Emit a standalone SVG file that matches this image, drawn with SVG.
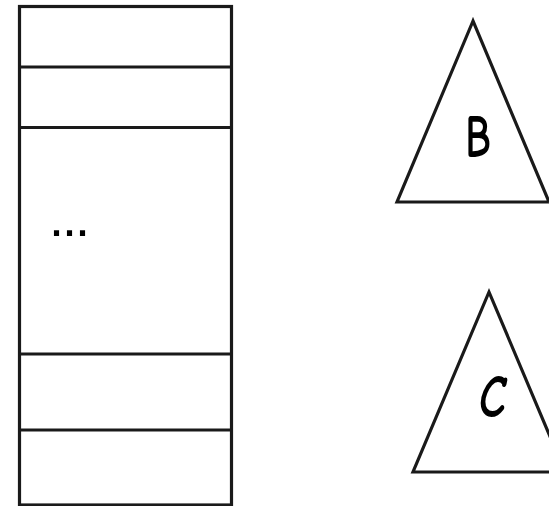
<svg xmlns="http://www.w3.org/2000/svg" width="549" height="506" viewBox="0 0 549 506">
<style>
.s{fill:none;stroke:#1a1a1a;stroke-width:3.2}
.t{fill:#000;font-family:"Comic Sans MS","Comic Neue","DejaVu Sans",sans-serif;font-weight:bold}
</style>
<rect width="549" height="506" fill="#fff"/>
<g id="stack">
<rect class="s" x="19.5" y="6.5" width="212" height="498.5"/>
<line class="s" x1="19.5" y1="67" x2="231.5" y2="67"/>
<line class="s" x1="19.5" y1="127.5" x2="231.5" y2="127.5"/>
<line class="s" x1="19.5" y1="354" x2="231.5" y2="354"/>
<line class="s" x1="19.5" y1="430" x2="231.5" y2="430"/>
<text x="49" y="236" style="fill:#000;font-family:'Liberation Sans',sans-serif;font-size:54px;letter-spacing:-2px">...</text>
</g>
<g id="B">
<polygon class="s" points="473,21 397,202 549,202"/>
<text class="t" x="478" y="157" text-anchor="middle" font-size="60" transform="translate(478 0) scale(0.7 1) translate(-478 0)">B</text>
</g>
<g id="C">
<polygon class="s" points="489,292 413,472 565,472"/>
<text class="t" x="492" y="417" text-anchor="middle" font-size="60" font-style="italic" transform="translate(492 0) scale(0.76 1) translate(-492 0)">C</text>
</g>
<g id="connectors"></g>
</svg>
